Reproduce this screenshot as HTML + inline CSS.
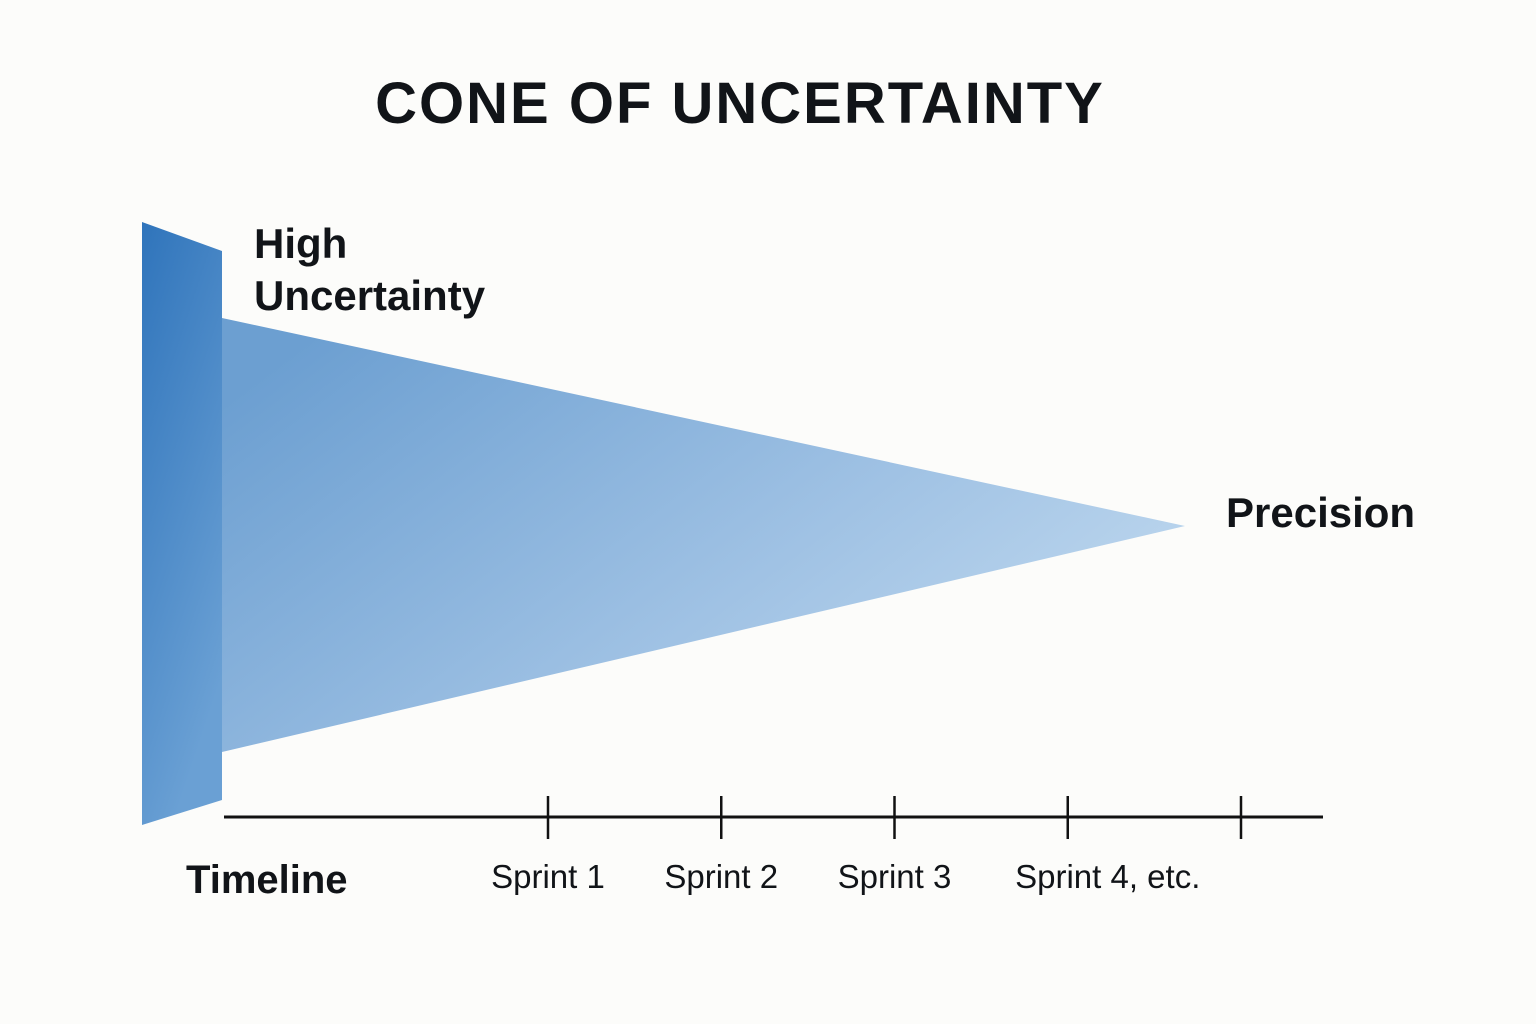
<!DOCTYPE html>
<html><head><meta charset="utf-8"><style>
html,body{margin:0;padding:0;background:#fcfcfa;}
svg{display:block;}
text{font-family:"Liberation Sans",sans-serif;fill:#111418;}
</style></head><body>
<svg width="1536" height="1024" viewBox="0 0 1536 1024">
<defs>
<linearGradient id="barG" x1="0" y1="0" x2="0.4" y2="1">
<stop offset="0" stop-color="#2f74bb"/><stop offset="1" stop-color="#6aa0d4"/>
</linearGradient>
<linearGradient id="coneG" x1="0" y1="0.2" x2="1" y2="0.8">
<stop offset="0" stop-color="#6c9fd1"/><stop offset="0.55" stop-color="#9dc0e3"/><stop offset="1" stop-color="#c3dbf0"/>
</linearGradient>
</defs>
<text x="740" y="123" text-anchor="middle" font-size="58" font-weight="bold" letter-spacing="2">CONE OF UNCERTAINTY</text>
<polygon points="142,222 222,251 222,800 142,825" fill="url(#barG)"/>
<polygon points="222,318 1185,526 222,752" fill="url(#coneG)"/>
<text x="254" y="258" font-size="42" font-weight="bold">High</text>
<text x="254" y="310" font-size="42" font-weight="bold">Uncertainty</text>
<text x="1226" y="527" font-size="42" font-weight="bold">Precision</text>
<line x1="224" y1="817" x2="1323" y2="817" stroke="#111" stroke-width="3"/>
<text x="186" y="893" font-size="40" font-weight="bold">Timeline</text>
<g id="ticks"></g>
</svg>
<script>
const sprintLabels = ["Sprint 1","Sprint 2","Sprint 3","Sprint 4, etc.",""];
const sprintIndex = [1,2,3,4,5];
function xScale(i){ return 548 + (i-1)*173.25; }
const g = document.getElementById('ticks');
const ns = "http://www.w3.org/2000/svg";
sprintIndex.forEach((s,k)=>{
  const x = xScale(s);
  const l = document.createElementNS(ns,'line');
  l.setAttribute('x1',x); l.setAttribute('x2',x);
  l.setAttribute('y1',796); l.setAttribute('y2',839);
  l.setAttribute('stroke','#111'); l.setAttribute('stroke-width','2.5');
  
  
  g.appendChild(l);
  if (sprintLabels[k]) {
    const t = document.createElementNS(ns,'text');
    const anchorX = k===3 ? x+40 : x;
    t.setAttribute('x',anchorX); t.setAttribute('y',888);
    t.setAttribute('text-anchor','middle'); t.setAttribute('font-size','33');
    t.textContent = sprintLabels[k];
    
    
    g.appendChild(t);
  }
});
</script>
</body></html>
